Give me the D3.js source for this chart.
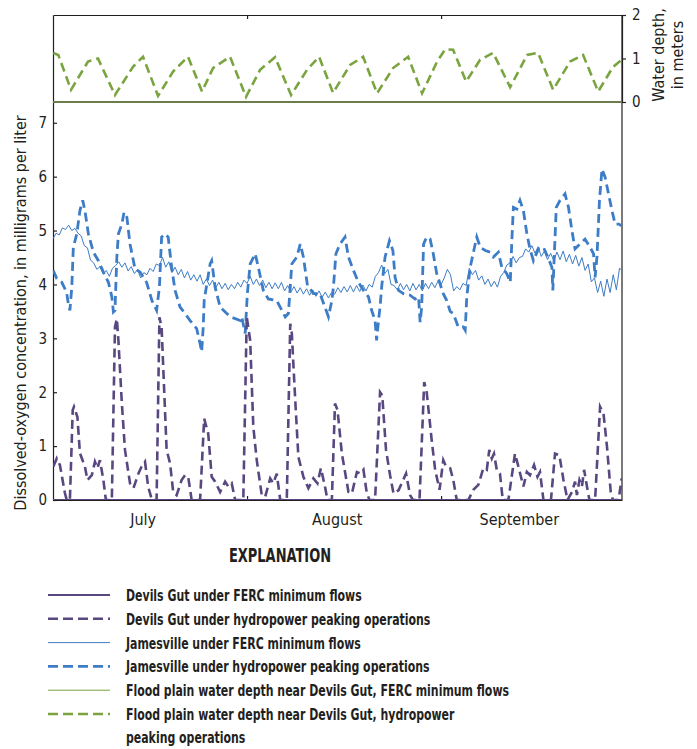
<!DOCTYPE html>
<html>
<head>
<meta charset="utf-8">
<script src="https://cdn.jsdelivr.net/npm/d3@7"></script>
<style>
body { margin: 0; background: #fff; }
svg { display: block; }
text { font-family: "DejaVu Sans Condensed", "Liberation Sans Narrow", sans-serif; fill: #231f20; }
</style>
</head>
<body>
<div id="chart"></div>
<script>
// days since July 1
const monthBoundaries = [31, 62];
const monthNames = ["July", "August", "September"];
const monthLabelDays = [14.4, 45.4, 74.5];
const doTicks = [0, 1, 2, 3, 4, 5, 6, 7];
const depthTicks = [0, 1, 2];

// Devils Gut, FERC minimum flows (sits on zero the whole period)
const devilsGutMin = [[0, 0], [90.9, 0]];

// Devils Gut, hydropower peaking operations [day, mg/L]
const devilsGutPeak = [
    [0.05,0.62],[0.6,0.77],[1.1,0.65],[1.9,0.13],[2.2,0],[2.7,0],[3.15,1.67],[3.35,1.73],[3.9,1.54],
    [4.3,0.87],[5.1,0.62],[5.5,0.37],[6.2,0.46],[6.7,0.71],[7.1,0.59],[7.5,0.74],[8.05,0.37],[8.45,0],
    [9.4,0],[9.9,3.21],[10.2,3.36],[10.45,2.96],[11.0,1.79],[11.5,0.93],[12.3,0.31],[12.85,0.22],
    [13.65,0.49],[14.15,0.62],[14.7,0.71],[15.2,0.25],[15.8,0],[16.55,0],[17.0,3.39],[17.35,3.21],
    [18.15,0.93],[18.7,0.68],[19.2,0.15],[19.75,0.09],[20.55,0.37],[21.1,0.46],[21.6,0.43],[22.15,0],
    [23.5,0],[24.15,1.51],[24.8,1.23],[25.35,0.43],[25.9,0.34],[26.7,0.15],[27.5,0.34],[28.0,0.25],
    [28.55,0.31],[29.1,0],[30.4,0],[30.95,3.4],[31.5,2.96],[32.0,1.36],[32.55,0.74],[33.35,0.09],
    [33.9,0.06],[34.7,0.4],[35.2,0.31],[35.75,0.49],[36.3,0],[37.35,0],[37.9,3.27],[38.15,3.09],
    [38.7,1.85],[39.2,0.8],[40.0,0.43],[40.8,0.22],[41.6,0.4],[42.25,0.31],[42.8,0.59],[43.45,0.25],
    [43.85,0],[44.55,0],[45.05,1.79],[45.45,1.67],[46.15,0.86],[47.2,0.15],[47.75,0.12],[48.55,0.52],
    [49.15,0.49],[49.6,0.56],[50.1,0.15],[50.55,0],[51.45,0],[52.25,2.0],[52.6,1.94],[53.2,0.93],
    [53.85,0.46],[54.4,0.12],[55.2,0.18],[55.7,0.31],[56.4,0.49],[57.05,0.09],[57.5,0],[58.55,0],
    [59.3,2.19],[59.7,2.0],[60.5,1.11],[61.05,0.56],[61.75,0.19],[62.35,0.74],[62.8,0.62],[63.45,0.59],
    [63.95,0.37],[64.5,0],[66.35,0],[67.15,0.19],[67.95,0.28],[68.75,0.59],[69.3,0.56],[69.7,0.93],
    [70.1,0.77],[70.45,0.86],[70.9,0.56],[71.4,0.49],[71.85,0],[72.75,0],[73.8,0.86],[74.35,0.62],
    [75.15,0.25],[75.7,0.52],[76.2,0.46],[76.85,0.65],[77.4,0.43],[77.8,0.52],[78.35,0],[79.55,0],
    [80.2,0.86],[80.9,0.83],[81.55,0.37],[82.2,0],[82.9,0.15],[83.4,0.34],[83.7,0.09],[84.1,0.37],
    [84.5,0.25],[84.85,0.56],[85.3,0.25],[85.7,0],[86.6,0],[87.4,1.73],[87.95,1.6],[88.5,0.99],
    [89.1,0.15],[89.45,0],[90.35,0],[90.85,0.4]
];

// Jamesville, FERC minimum flows, every half day starting July 1
const jamesvilleMinStep = 0.5;
const jamesvilleMin = [
    4.85,4.95, 4.92,5.05, 5.02,5.10, 5.00,5.04, 4.95,4.90, 4.72,4.68, 4.45,4.40, 4.28,4.33, 4.20,4.26, 4.15,4.30,
    4.35,4.42, 4.32,4.40, 4.25,4.33, 4.20,4.28, 4.12,4.22, 4.18,4.30, 4.24,4.38, 4.35,4.50, 4.32,4.42, 4.22,4.32,
    4.18,4.28, 4.12,4.24, 4.08,4.18, 4.06,4.18, 4.00,4.10, 3.98,4.08, 3.94,4.04, 3.92,4.02, 3.90,4.00, 3.92,4.04,
    3.95,4.08, 4.02,4.15, 4.00,4.10, 3.98,4.08, 3.94,4.04, 3.92,4.03, 3.92,4.04, 3.88,3.98, 3.86,3.96, 3.84,3.94,
    3.82,3.92, 3.80,3.90, 3.78,3.88, 3.76,3.86, 3.75,3.85, 3.82,3.94, 3.85,3.96, 3.86,3.98, 3.86,3.98, 3.87,3.99,
    3.88,4.00, 3.95,4.15, 4.22,4.36, 4.20,4.28, 4.00,3.98, 3.90,4.02, 3.90,4.00, 3.88,4.02, 3.90,4.00, 3.88,4.02,
    3.92,4.04, 3.94,4.06, 4.00,4.12, 4.28,4.18, 3.88,3.96, 3.90,4.02, 3.98,4.30, 4.18,4.26, 4.08,4.16, 4.00,4.10,
    3.96,4.06, 3.95,4.15, 4.22,4.36, 4.40,4.52, 4.40,4.50, 4.52,4.66, 4.60,4.72, 4.58,4.70, 4.52,4.62, 4.46,4.58,
    4.44,4.60, 4.46,4.62, 4.42,4.56, 4.38,4.54, 4.34,4.50, 4.26,4.38, 4.05,4.12, 3.85,4.06, 3.78,4.10, 3.85,4.18,
    3.90,4.30, 4.25
];

// Jamesville, hydropower peaking operations [day, mg/L]
const jamesvillePeak = [
    [0.05,4.26],[0.6,4.11],[1.4,4.04],[1.9,3.92],[2.2,3.83],[2.45,3.64],[2.7,3.52],[3.0,3.95],[3.25,4.69],
    [3.8,4.94],[4.3,5.37],[4.75,5.56],[5.1,5.37],[5.65,4.94],[6.45,4.6],[7.25,4.44],[8.05,4.23],[8.85,4.04],
    [9.4,3.77],[9.65,3.49],[9.9,3.52],[10.2,4.51],[10.45,4.94],[11.0,5.12],[11.35,5.34],[11.8,5.25],
    [12.3,4.75],[13.1,4.29],[13.9,4.23],[14.95,4.04],[15.8,3.7],[16.55,3.52],[17.0,3.95],[17.35,4.88],
    [17.9,4.94],[18.4,4.88],[18.95,4.32],[19.5,3.89],[20.3,3.58],[21.1,3.46],[21.9,3.33],[22.95,3.18],
    [23.5,2.9],[23.75,2.75],[24.0,3.21],[24.15,3.7],[25.1,4.38],[25.35,4.44],[25.9,3.95],[26.7,3.58],
    [28.3,3.4],[29.9,3.33],[30.15,3.4],[30.7,3.09],[31.05,3.83],[31.5,4.38],[32.3,4.57],[32.8,4.32],
    [33.6,3.89],[34.4,3.73],[35.75,3.7],[36.55,3.52],[37.1,3.4],[37.6,3.46],[37.9,3.95],[38.15,4.38],
    [38.95,4.51],[39.5,4.75],[40.0,4.51],[40.65,3.98],[41.6,3.83],[42.65,3.83],[43.45,3.58],[44.0,3.4],
    [44.55,3.7],[44.8,3.95],[45.2,4.57],[45.85,4.75],[46.65,4.88],[47.2,4.51],[48.0,4.26],[48.8,4.04],
    [49.6,3.89],[50.4,3.77],[50.9,3.52],[51.45,3.33],[51.7,2.96],[52.0,3.33],[52.25,3.58],[52.5,3.95],
    [53.05,4.51],[53.75,4.81],[54.3,4.63],[54.65,4.13],[55.2,3.89],[56.0,3.83],[57.05,3.8],[57.85,3.73],
    [58.4,3.77],[58.65,3.3],[58.9,3.58],[59.2,4.75],[59.7,4.88],[60.25,4.84],[60.75,4.57],[61.3,4.2],
    [62.35,3.83],[62.9,3.7],[63.45,3.5],[63.95,3.46],[64.75,3.21],[65.55,3.21],[65.85,3.15],[66.1,3.77],
    [66.65,4.32],[67.45,4.75],[67.7,4.88],[68.25,4.69],[69.05,4.63],[69.85,4.6],[70.35,4.51],[71.15,4.6],
    [71.7,4.32],[72.5,4.2],[73.05,4.04],[73.3,4.81],[73.55,5.43],[74.1,5.4],[74.6,5.56],[75.15,5.37],
    [75.7,4.94],[76.2,4.66],[76.75,4.44],[77.55,4.66],[78.35,4.69],[79.15,4.48],[79.7,4.32],[79.85,3.89],
    [80.05,4.44],[80.4,5.43],[81.0,5.56],[81.8,5.68],[82.35,5.43],[82.9,5.0],[83.4,4.66],[84.2,4.75],
    [85.0,4.84],[85.8,4.69],[86.35,4.57],[86.6,4.13],[86.9,4.51],[87.3,5.56],[87.7,6.14],[88.2,5.99],
    [88.75,5.68],[89.3,5.37],[89.8,5.12],[90.35,5.12],[90.85,5.09]
];

// Flood plain water depth near Devils Gut [day, meters]
const floodDepthMin = [[0, 0], [90.9, 0]];
const floodDepthPeak = [
    [0.05,1.13],[0.85,1.08],[2.88,0.28],[5.59,0.93],[7.19,1.0],[9.9,0.16],[12.78,0.81],[14.38,1.04],
    [16.78,0.14],[19.18,0.7],[21.57,1.04],[23.81,0.24],[25.57,0.78],[28.28,1.04],[30.84,0.12],[33.08,0.74],
    [35.47,1.03],[38.03,0.16],[40.59,0.74],[42.51,1.04],[44.74,0.21],[47.46,0.85],[49.54,1.04],[51.77,0.2],
    [54.33,0.78],[56.73,1.04],[58.96,0.2],[61.36,0.93],[62.64,1.21],[63.92,1.2],[66.0,0.47],[68.23,0.97],
    [70.31,1.13],[73.03,0.34],[75.74,1.08],[77.5,1.13],[79.9,0.28],[82.61,0.93],[84.69,1.08],[87.09,0.24],
    [89.48,0.81],[90.92,0.98]
];

const legendLabels = [
    ["Devils Gut under FERC minimum flows"],
    ["Devils Gut under hydropower peaking operations"],
    ["Jamesville under FERC minimum flows"],
    ["Jamesville under hydropower peaking operations"],
    ["Flood plain water depth near Devils Gut, FERC minimum flows"],
    ["Flood plain water depth near Devils Gut, hydropower", "peaking operations"]
];

const PURPLE = "#594780", BLUE = "#3d7cc6", OLIVE = "#6b7d4c", GREEN = "#7aa43f";

const svgWidth = 697, svgHeight = 749;
const plotLeft = 53, plotRight = 622, plotTop = 15, plotBottom = 500;
// the bold type in the original is a narrow face, so squeeze it sideways
const BOLD_SQUEEZE = 0.76;

const svg = d3.select("#chart").append("svg")
    .attr("width", svgWidth)
    .attr("height", svgHeight);

const x = d3.scaleLinear().domain([0, 90.9]).range([plotLeft, plotRight]);
const y = d3.scaleLinear().domain([0, 9]).range([plotBottom, plotTop]);
const yDepth = d3.scaleLinear().domain([0, 2]).range([102, plotTop]);

svg.append("clipPath").attr("id", "plotClip")
    .append("rect")
    .attr("x", plotLeft).attr("y", plotTop)
    .attr("width", plotRight - plotLeft).attr("height", plotBottom - plotTop);

// axes
const axisColor = "#231f20";
function styleAxis(g) {
    g.selectAll("path, line").attr("stroke", axisColor).attr("stroke-width", 1.2);
    g.selectAll("text").attr("font-size", 15).attr("fill", axisColor)
        .attr("font-family", null);
}

svg.append("g")
    .attr("transform", `translate(${plotLeft},0)`)
    .call(d3.axisLeft(y).tickValues(doTicks).tickSizeInner(-4).tickSizeOuter(0).tickPadding(6))
    .call(styleAxis);

svg.append("g")
    .attr("transform", `translate(0,${plotBottom})`)
    .call(d3.axisBottom(x).tickValues(monthBoundaries).tickSizeInner(-4).tickSizeOuter(0).tickFormat(""))
    .call(styleAxis);

svg.append("g")
    .attr("transform", `translate(0,${plotTop})`)
    .call(d3.axisTop(x).tickValues(monthBoundaries).tickSizeInner(-4).tickSizeOuter(0).tickFormat(""))
    .call(styleAxis);

svg.append("line")
    .attr("x1", plotRight).attr("x2", plotRight)
    .attr("y1", plotTop).attr("y2", plotBottom)
    .attr("stroke", axisColor).attr("stroke-width", 1.2);

svg.append("g")
    .attr("transform", `translate(${plotRight},0)`)
    .call(d3.axisRight(yDepth).tickValues(depthTicks).tickFormat(d3.format("d"))
        .tickSizeInner(4).tickSizeOuter(0).tickPadding(6))
    .call(styleAxis);

// month names under the bottom axis
svg.append("g").selectAll("text")
    .data(monthNames)
    .enter().append("text")
    .attr("x", (d, i) => x(monthLabelDays[i]))
    .attr("y", 525)
    .attr("text-anchor", "middle")
    .attr("font-size", 16)
    .text(d => d);

// axis titles
svg.append("text")
    .attr("transform", "translate(26,313) rotate(-90)")
    .attr("text-anchor", "middle")
    .attr("font-size", 16)
    .text("Dissolved-oxygen concentration, in milligrams per liter");

const depthTitle = svg.append("text")
    .attr("transform", "translate(664,55) rotate(-90)")
    .attr("text-anchor", "middle")
    .attr("font-size", 16);
depthTitle.append("tspan").attr("x", 0).attr("dy", 0).text("Water depth,");
depthTitle.append("tspan").attr("x", 0).attr("dy", 19).text("in meters");

// data lines
const line = d3.line().x(d => x(d[0])).y(d => y(d[1]));
const depthLine = d3.line().x(d => x(d[0])).y(d => yDepth(d[1]));
const plot = svg.append("g").attr("clip-path", "url(#plotClip)");

const jamesvilleMinPoints = jamesvilleMin.map((v, i) => [i * jamesvilleMinStep, v]);

plot.append("path").datum(floodDepthMin)
    .attr("d", depthLine).attr("fill", "none")
    .attr("stroke", OLIVE).attr("stroke-width", 2);

plot.append("path").datum(floodDepthPeak)
    .attr("d", depthLine).attr("fill", "none")
    .attr("stroke", GREEN).attr("stroke-width", 2.6)
    .attr("stroke-dasharray", "9,5");

plot.append("path").datum(jamesvilleMinPoints)
    .attr("d", line).attr("fill", "none")
    .attr("stroke", BLUE).attr("stroke-width", 1);

plot.append("path").datum(jamesvillePeak)
    .attr("d", line).attr("fill", "none")
    .attr("stroke", BLUE).attr("stroke-width", 2.8)
    .attr("stroke-dasharray", "9,5");

plot.append("path").datum(devilsGutPeak)
    .attr("d", line).attr("fill", "none")
    .attr("stroke", PURPLE).attr("stroke-width", 2.6)
    .attr("stroke-dasharray", "9,5");

plot.append("path").datum(devilsGutMin)
    .attr("d", line).attr("fill", "none")
    .attr("stroke", PURPLE).attr("stroke-width", 2);

// explanation
svg.append("text")
    .attr("transform", `translate(280,562) scale(${BOLD_SQUEEZE},1)`)
    .attr("text-anchor", "middle")
    .attr("font-size", 19)
    .attr("font-weight", "bold")
    .text("EXPLANATION");

const legendStyles = [
    {color: PURPLE, width: 2, dash: null},
    {color: PURPLE, width: 2.6, dash: "10,5"},
    {color: BLUE, width: 1, dash: null},
    {color: BLUE, width: 2.6, dash: "10,5"},
    {color: GREEN, width: 1, dash: null},
    {color: GREEN, width: 2.6, dash: "10,5"}
];
const legendRowY = d3.scalePoint().domain(d3.range(legendLabels.length)).range([595, 714]);

const legend = svg.append("g").selectAll("g")
    .data(legendLabels)
    .enter().append("g")
    .attr("transform", (d, i) => `translate(0,${legendRowY(i)})`);

legend.append("line")
    .attr("x1", 48).attr("x2", 110)
    .attr("stroke", (d, i) => legendStyles[i].color)
    .attr("stroke-width", (d, i) => legendStyles[i].width)
    .attr("stroke-dasharray", (d, i) => legendStyles[i].dash);

legend.append("text")
    .attr("transform", `translate(126,6) scale(${BOLD_SQUEEZE},1)`)
    .attr("font-size", 16)
    .attr("font-weight", "bold")
    .selectAll("tspan")
    .data(d => d)
    .enter().append("tspan")
    .attr("x", 0)
    .attr("dy", (d, i) => i === 0 ? 0 : 23)
    .text(d => d);
</script>
</body>
</html>
